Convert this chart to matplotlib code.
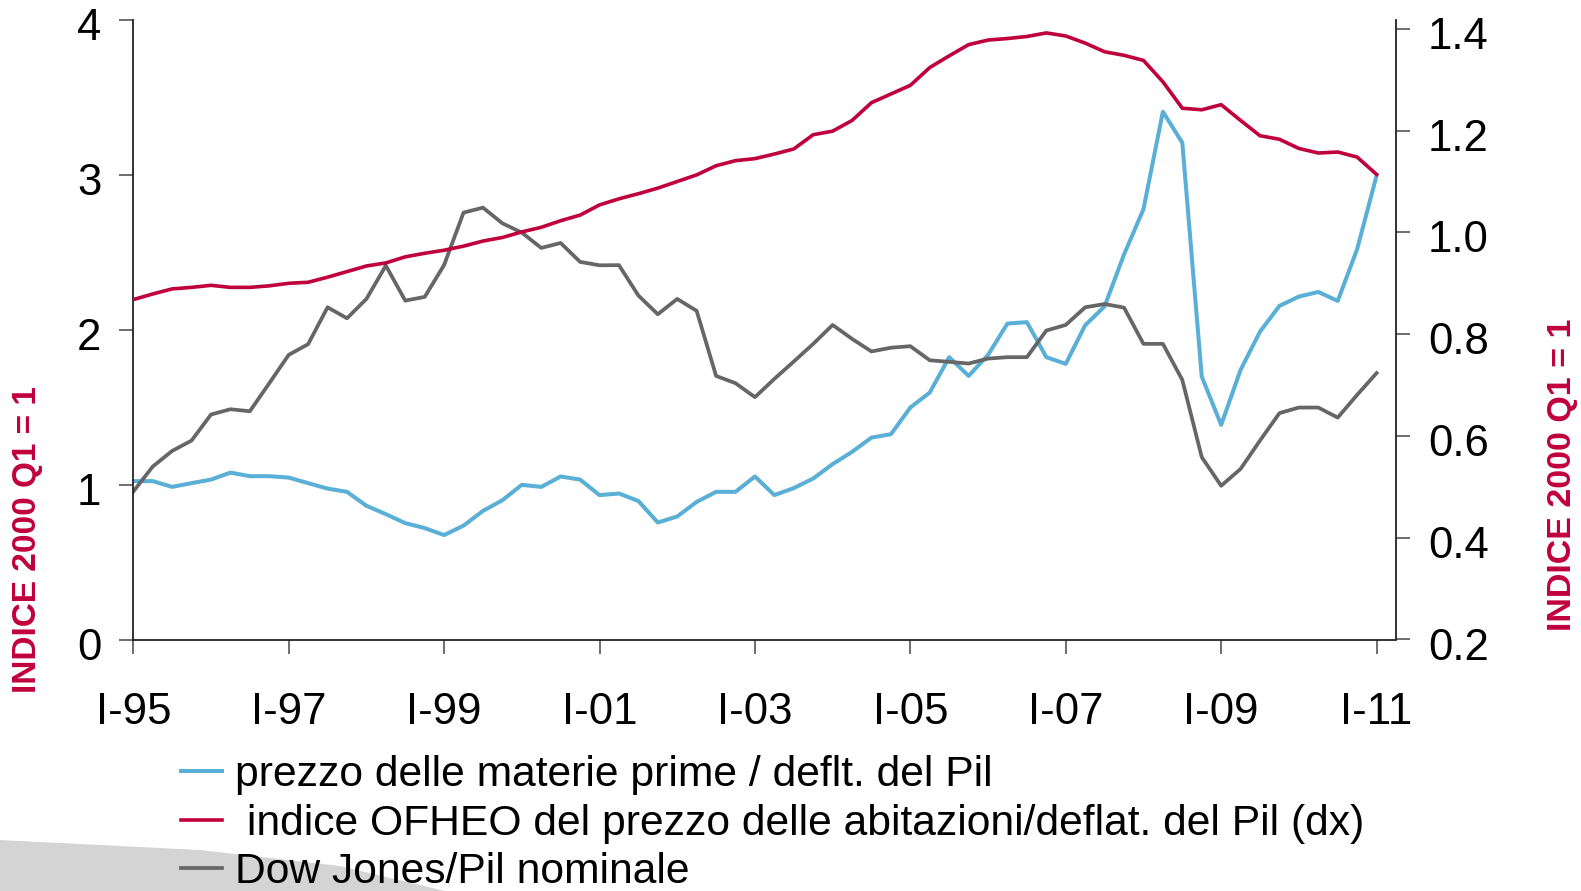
import matplotlib
matplotlib.use("Agg")
import matplotlib.pyplot as plt
import matplotlib.transforms as mtransforms
from matplotlib.patches import Polygon
import numpy as np

plt.rcParams['font.family'] = ['Liberation Sans', 'DejaVu Sans']

# Quarterly data 1995Q1 .. 2011Q1
tick_labels = ["I-95", "I-97", "I-99", "I-01", "I-03", "I-05", "I-07", "I-09", "I-11"]

commodities = [1.022, 1.022, 0.985, 1.009, 1.032, 1.077, 1.054, 1.054, 1.045, 1.009,
               0.974, 0.953, 0.863, 0.809, 0.751, 0.719, 0.674, 0.735, 0.830, 0.899,
               0.998, 0.985, 1.052, 1.032, 0.932, 0.942, 0.894, 0.755, 0.794, 0.888,
               0.953, 0.953, 1.052, 0.932, 0.977, 1.039, 1.132, 1.211, 1.303, 1.325,
               1.497, 1.594, 1.822, 1.701, 1.837, 2.039, 2.048, 1.822, 1.779, 2.028,
               2.150, 2.485, 2.777, 3.406, 3.206, 1.697, 1.385, 1.740, 1.987, 2.153,
               2.213, 2.243, 2.185, 2.519, 2.994]

ofheo = [0.868, 0.879, 0.889, 0.892, 0.896, 0.892, 0.892, 0.895, 0.900, 0.902,
         0.912, 0.923, 0.934, 0.940, 0.952, 0.959, 0.965, 0.973, 0.983, 0.990,
         1.001, 1.010, 1.023, 1.034, 1.054, 1.066, 1.076, 1.087, 1.100, 1.113,
         1.131, 1.141, 1.145, 1.154, 1.164, 1.192, 1.199, 1.220, 1.255, 1.272,
         1.289, 1.324, 1.347, 1.369, 1.378, 1.381, 1.385, 1.392, 1.386, 1.372,
         1.355, 1.348, 1.338, 1.296, 1.244, 1.241, 1.251, 1.220, 1.190, 1.183,
         1.165, 1.156, 1.158, 1.148, 1.114]

dowjones = [0.955, 1.116, 1.217, 1.284, 1.452, 1.486, 1.473, 1.654, 1.837, 1.906,
            2.144, 2.073, 2.198, 2.413, 2.187, 2.211, 2.417, 2.755, 2.787, 2.686,
            2.626, 2.527, 2.559, 2.437, 2.415, 2.416, 2.220, 2.099, 2.198, 2.121,
            1.701, 1.654, 1.564, 1.682, 1.794, 1.908, 2.030, 1.940, 1.859, 1.883,
            1.893, 1.802, 1.792, 1.781, 1.813, 1.822, 1.822, 1.994, 2.030, 2.144,
            2.165, 2.142, 1.908, 1.908, 1.675, 1.177, 0.992, 1.101, 1.284, 1.461,
            1.497, 1.497, 1.432, 1.579, 1.719]

legend_labels = ["prezzo delle materie prime / deflt. del Pil",
                 " indice OFHEO del prezzo delle abitazioni/deflat. del Pil (dx)",
                 "Dow Jones/Pil nominale"]
ylabel_text = "INDICE 2000 Q1 = 1"

BLUE = "#5AAFD7"
RED = "#C0003C"
GRAY = "#666666"

W, H = 1581, 891
fig = plt.figure(figsize=(W / 100, H / 100), dpi=100)

# background swoosh bottom-left
sw = Polygon(np.array([(0 / W, 1 - 840 / H), (200 / W, 1 - 850 / H),
                       (340 / W, 1 - 866 / H), (445 / W, 0), (0, 0)]),
             closed=True, transform=fig.transFigure, facecolor="#d4d4d4",
             edgecolor="none", zorder=0)
fig.patches.append(sw)

left, right = 133.3 / W, 1396 / W
top, bottom = 1 - 19.7 / H, 1 - 639.5 / H
ax = fig.add_axes([left, bottom, right - left, top - bottom])
ax2 = ax.twinx()

x = np.arange(len(commodities))
lb, = ax.plot(x, commodities, color=BLUE, lw=2.9)
lg, = ax.plot(x, dowjones, color=GRAY, lw=2.7)
lr, = ax2.plot(x, ofheo, color=RED, lw=2.6)

ax.set_xlim(0, 65)
ax.set_ylim(0, 4)
ax2.set_ylim(0.2, 1.418)

ax.set_xticks(np.arange(0, 65, 8))
ax.set_xticklabels(tick_labels)
ax.set_yticks([0, 1, 2, 3, 4])
ax2.set_yticks([0.2, 0.4, 0.6, 0.8, 1.0, 1.2, 1.4])
ax2.set_yticklabels([f"{v:.1f}" for v in [0.2, 0.4, 0.6, 0.8, 1.0, 1.2, 1.4]])

for a in (ax, ax2):
    a.spines['top'].set_visible(False)
    for s in a.spines.values():
        s.set_linewidth(1.3)
        s.set_color("#222222")
ax.spines['right'].set_visible(False)
ax2.spines['left'].set_visible(False)
ax2.spines['bottom'].set_visible(False)

FS = 31.5
ax.tick_params(axis='y', direction='out', length=10, width=1.2, color="#555555",
               labelsize=FS, pad=13)
ax.tick_params(axis='x', direction='out', length=10, width=1.2, color="#555555",
               labelsize=FS, pad=28)
ax2.tick_params(axis='y', direction='out', length=10, width=1.2, color="#555555",
                labelsize=FS, pad=13)

off = mtransforms.ScaledTranslation(0, -4 / 100, fig.dpi_scale_trans)
for lab in ax.get_yticklabels() + ax2.get_yticklabels():
    lab.set_transform(lab.get_transform() + off)

fig.text(28 / W, 1 - 540 / H, ylabel_text, rotation=90, color=RED, fontsize=24,
         fontweight='bold', ha='center', va='center')
fig.text(1562 / W, 1 - 475 / H, ylabel_text, rotation=90, color=RED, fontsize=24.5,
         fontweight='bold', ha='center', va='center')

fig.legend([lb, lr, lg], legend_labels, loc='upper left',
           bbox_to_anchor=(181 / W, 1 - 755 / H), frameon=False, fontsize=30.7,
           handlelength=0.97, handletextpad=0.3, labelspacing=0.2,
           borderaxespad=0, borderpad=0)

fig.savefig("out.png", dpi=100)
